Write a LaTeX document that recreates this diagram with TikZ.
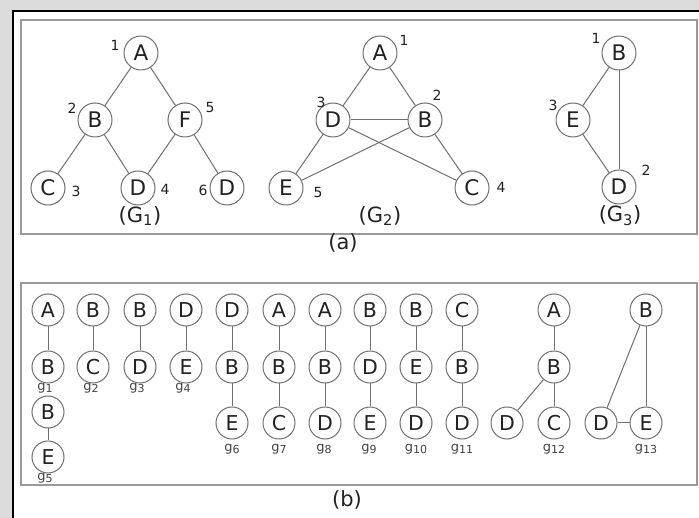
\documentclass[tikz,border=0pt]{standalone}
\usepackage{fontspec}
\setmainfont{DejaVu Sans}
\definecolor{edgec}{HTML}{707070}
\definecolor{boxc}{HTML}{9A9A9A}
\definecolor{bgc}{HTML}{DCDCDC}
\definecolor{txtc}{HTML}{222222}
\newcommand\gsub[1]{g\raisebox{-2.5pt}{\fontsize{11}{11}\selectfont #1}}
\tikzset{
  na/.style={circle,draw=edgec,line width=1pt,minimum size=34pt,inner sep=0pt,text=txtc,font=\fontsize{21.5}{21.5}\selectfont},
  nb/.style={circle,draw=edgec,line width=1pt,minimum size=32pt,inner sep=0pt,text=txtc,font=\fontsize{20.5}{20.5}\selectfont},
  num/.style={text=txtc,inner sep=0pt,font=\fontsize{14}{14}\selectfont},
  glab/.style={text=txtc!85,inner sep=0pt,font=\fontsize{13}{13}\selectfont},
  captxt/.style={text=txtc,inner sep=0pt,font=\fontsize{21}{21}\selectfont},
  ed/.style={draw=edgec,line width=1pt},
  panel/.style={draw=boxc,line width=1.6pt}
}
\begin{document}
\begin{tikzpicture}[x=1pt,y=-1pt]
\useasboundingbox (0,0) rectangle (699,518);
% background strips and frame
\fill[bgc] (0,0) rectangle (699,11);
\fill[bgc] (0,0) rectangle (13,518);
\fill[white] (13,11) rectangle (699,518);
\draw[black,line width=2pt] (13,518) -- (13,11) -- (699,11);
% panels
\draw[panel] (21,20) rectangle (697,234);
\draw[panel] (21,283) rectangle (697,485);
\node[captxt] (capa) at (343,243) {(a)};
\node[captxt] (capb) at (347,500) {(b)};
% ---- G1
\node[na] (a1) at (141,53) {A};
\node[na] (b1) at (95,120) {B};
\node[na] (f1) at (185,120) {F};
\node[na] (c1) at (48,188) {C};
\node[na] (d1) at (138,188) {D};
\node[na] (e1) at (227,188) {D};
\draw[ed] (a1) -- (b1); \draw[ed] (a1) -- (f1);
\draw[ed] (b1) -- (c1); \draw[ed] (b1) -- (d1);
\draw[ed] (f1) -- (d1); \draw[ed] (f1) -- (e1);
\node[num] (l11) at (115,45) {1};
\node[num] (l12) at (72,108) {2};
\node[num] (l15) at (210,107) {5};
\node[num] (l13) at (76,191) {3};
\node[num] (l14) at (165,189) {4};
\node[num] (l16) at (203,190) {6};
\node[captxt] (g1cap) at (140,216) {(G\textsubscript{1})};
% ---- G2
\node[na] (a2) at (380,53) {A};
\node[na] (d2) at (333,120) {D};
\node[na] (b2) at (425,120) {B};
\node[na] (e2) at (286,188) {E};
\node[na] (c2) at (472,188) {C};
\draw[ed] (a2) -- (d2); \draw[ed] (a2) -- (b2);
\draw[ed] (d2) -- (b2);
\draw[ed] (d2) -- (e2); \draw[ed] (d2) -- (c2);
\draw[ed] (b2) -- (e2); \draw[ed] (b2) -- (c2);
\node[num] (l21) at (404,40) {1};
\node[num] (l23) at (321,102) {3};
\node[num] (l22) at (437,95) {2};
\node[num] (l25) at (318,192) {5};
\node[num] (l24) at (501,187) {4};
\node[captxt] (g2cap) at (380,216) {(G\textsubscript{2})};
% ---- G3
\node[na] (b3) at (619,53) {B};
\node[na] (e3) at (573,120) {E};
\node[na] (d3) at (619,187) {D};
\draw[ed] (b3) -- (e3); \draw[ed] (b3) -- (d3); \draw[ed] (e3) -- (d3);
\node[num] (l31) at (596,38) {1};
\node[num] (l33) at (553,105) {3};
\node[num] (l32) at (646,170) {2};
\node[captxt] (g3cap) at (620,216) {(G\textsubscript{3})};
% ---- panel (b)
% g1 / g5
\node[nb] (p1a) at (48,310) {A};
\node[nb] (p1b) at (48,367) {B};
\draw[ed] (p1a) -- (p1b);
\node[glab] (gl1) at (45,388) {\gsub{1}};
\node[nb] (p5b) at (48,412) {B};
\node[nb] (p5e) at (48,457) {E};
\draw[ed] (p5b) -- (p5e);
\node[glab] (gl5) at (45,478) {\gsub{5}};
% g2
\node[nb] (p2a) at (93,310) {B};
\node[nb] (p2b) at (93,367) {C};
\draw[ed] (p2a) -- (p2b);
\node[glab] (gl2) at (91,388) {\gsub{2}};
% g3
\node[nb] (p3a) at (140,310) {B};
\node[nb] (p3b) at (140,367) {D};
\draw[ed] (p3a) -- (p3b);
\node[glab] (gl3) at (137,388) {\gsub{3}};
% g4
\node[nb] (p4a) at (186,310) {D};
\node[nb] (p4b) at (186,367) {E};
\draw[ed] (p4a) -- (p4b);
\node[glab] (gl4) at (183,388) {\gsub{4}};
% g6
\node[nb] (p6a) at (232,310) {D};
\node[nb] (p6b) at (232,367) {B};
\node[nb] (p6c) at (232,423) {E};
\draw[ed] (p6a) -- (p6b); \draw[ed] (p6b) -- (p6c);
\node[glab] (gl6) at (232,449) {\gsub{6}};
% g7
\node[nb] (p7a) at (279,310) {A};
\node[nb] (p7b) at (279,367) {B};
\node[nb] (p7c) at (279,423) {C};
\draw[ed] (p7a) -- (p7b); \draw[ed] (p7b) -- (p7c);
\node[glab] (gl7) at (279,449) {\gsub{7}};
% g8
\node[nb] (p8a) at (325,310) {A};
\node[nb] (p8b) at (325,367) {B};
\node[nb] (p8c) at (325,423) {D};
\draw[ed] (p8a) -- (p8b); \draw[ed] (p8b) -- (p8c);
\node[glab] (gl8) at (324,449) {\gsub{8}};
% g9
\node[nb] (p9a) at (370,310) {B};
\node[nb] (p9b) at (370,367) {D};
\node[nb] (p9c) at (370,423) {E};
\draw[ed] (p9a) -- (p9b); \draw[ed] (p9b) -- (p9c);
\node[glab] (gl9) at (369,449) {\gsub{9}};
% g10
\node[nb] (p10a) at (416,310) {B};
\node[nb] (p10b) at (416,367) {E};
\node[nb] (p10c) at (416,423) {D};
\draw[ed] (p10a) -- (p10b); \draw[ed] (p10b) -- (p10c);
\node[glab] (gl10) at (416,449) {\gsub{10}};
% g11
\node[nb] (p11a) at (462,310) {C};
\node[nb] (p11b) at (462,367) {B};
\node[nb] (p11c) at (462,423) {D};
\draw[ed] (p11a) -- (p11b); \draw[ed] (p11b) -- (p11c);
\node[glab] (gl11) at (462,449) {\gsub{11}};
% g12
\node[nb] (p12a) at (554,310) {A};
\node[nb] (p12b) at (554,367) {B};
\node[nb] (p12d) at (507,423) {D};
\node[nb] (p12c) at (554,423) {C};
\draw[ed] (p12a) -- (p12b); \draw[ed] (p12b) -- (p12d); \draw[ed] (p12b) -- (p12c);
\node[glab] (gl12) at (554,449) {\gsub{12}};
% g13
\node[nb] (p13b) at (646,310) {B};
\node[nb] (p13d) at (601,423) {D};
\node[nb] (p13e) at (646,423) {E};
\draw[ed] (p13b) -- (p13d); \draw[ed] (p13b) -- (p13e); \draw[ed] (p13d) -- (p13e);
\node[glab] (gl13) at (646,449) {\gsub{13}};
\end{tikzpicture}
\end{document}
